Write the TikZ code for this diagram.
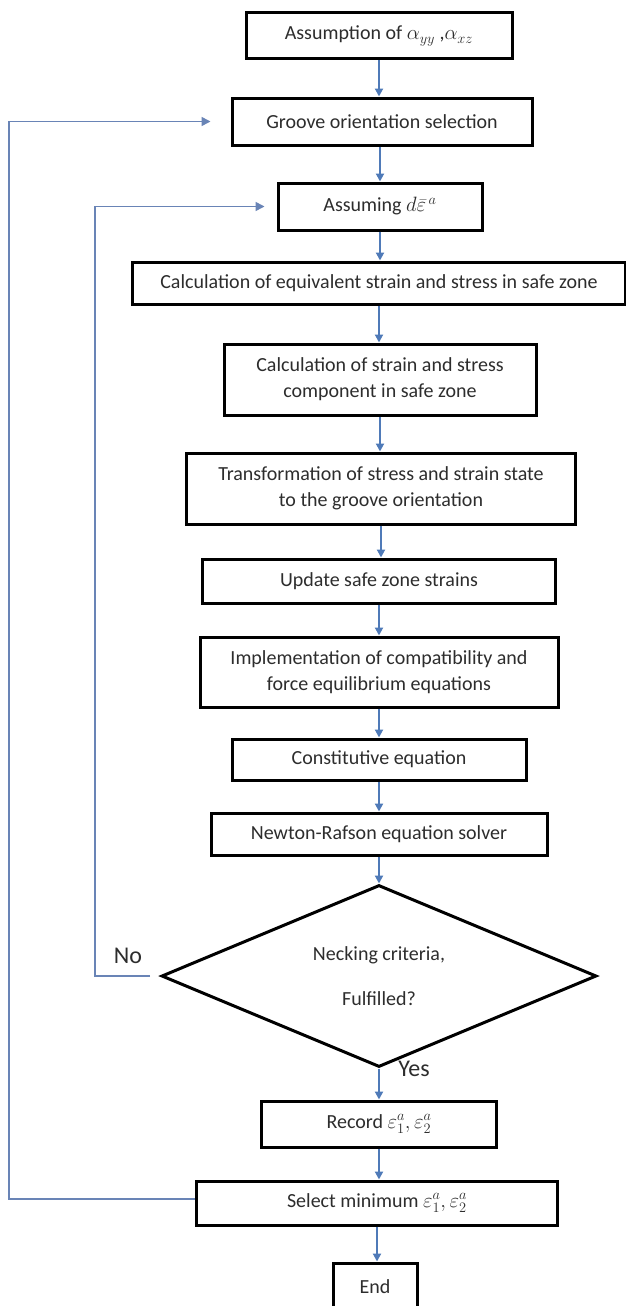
\documentclass[tikz,border=0pt]{standalone}
\usepackage{fontspec}
\setmainfont{Carlito}
\usepackage{amsmath}
\usetikzlibrary{arrows.meta,shapes.geometric}
\definecolor{txt}{RGB}{45,45,45}
\definecolor{arr}{RGB}{79,122,184}
\definecolor{loop}{RGB}{105,132,182}
\tikzset{
  box/.style={draw=black, line width=3pt, fill=white, inner sep=0pt, align=center, text=txt,
              font=\fontsize{20}{26}\selectfont},
  flow/.style={draw=arr, line width=2pt, -{Triangle[width=8pt,length=8pt]}},
  back/.style={draw=loop, line width=1.6pt, -{Triangle[width=9pt,length=9pt]}},
  lbl/.style={text=txt, font=\fontsize{24}{26}\selectfont, inner sep=0pt}
}
\begin{document}
\begin{tikzpicture}[x=1pt,y=-1pt]
\useasboundingbox (0,0) rectangle (626,1306);
\clip (0,0) rectangle (626,1306);
\fill[white] (0,0) rectangle (626,1306);
\node[box, minimum width=266, minimum height=46] (b1) at (379,36) {Assumption of $\alpha_{yy}$ ,$\alpha_{xz}$};
\node[box, minimum width=300, minimum height=47] (b2) at (382,121.5) {Groove orientation selection};
\node[box, minimum width=204, minimum height=47] (b3) at (380,206.5) {Assuming $d\bar{\varepsilon}^{\,a}$};
\node[box, minimum width=493, minimum height=42] (b4) at (379,283) {Calculation of equivalent strain and stress in safe zone};
\node[box, minimum width=312, minimum height=71] (b5) at (380,379.5) {Calculation of strain and stress\\component in safe zone};
\node[box, minimum width=389, minimum height=71] (b6) at (381,488.5) {Transformation of stress and strain state\\to the groove orientation};
\node[box, minimum width=353, minimum height=44] (b7) at (379,581) {Update safe zone strains};
\node[box, minimum width=358, minimum height=70] (b8) at (379,672) {Implementation of compatibility and\\force equilibrium equations};
\node[box, minimum width=294, minimum height=41] (b9) at (379,759.5) {Constitutive equation};
\node[box, minimum width=336, minimum height=42] (b10) at (379,834) {Newton-Rafson equation solver};
\node[box, diamond, minimum width=435, minimum height=182] (dia) at (379,976) {};
\node[text=txt, font=\fontsize{20}{22}\selectfont] (t1) at (379,955) {Necking criteria,};
\node[text=txt, font=\fontsize{20}{22}\selectfont] (t2) at (379,999) {Fulfilled?};
\node[box, minimum width=235, minimum height=46] (b11) at (379,1124) {Record $\varepsilon^{a}_{1},\varepsilon^{a}_{2}$};
\node[box, minimum width=361, minimum height=44] (b12) at (377,1203) {Select minimum $\varepsilon^{a}_{1},\varepsilon^{a}_{2}$};
\node[box, minimum width=84, minimum height=48] (end) at (375,1287) {End};
\node[lbl] (no) at (128,956) {No};
\node[lbl] (yes) at (414,1069) {Yes};
% main flow
\draw[flow] (b1.south) -- (b1.south |- b2.north);
\draw[flow] (b2.south -| b3.north) -- (b3.north);
\draw[flow] (b3.south) -- (b3.south |- b4.north);
\draw[flow] (b4.south) -- (b4.south |- b5.north);
\draw[flow] (b5.south) -- (b5.south |- b6.north);
\draw[flow] (b6.south) -- (b6.south |- b7.north);
\draw[flow] (b7.south) -- (b7.south |- b8.north);
\draw[flow] (b8.south) -- (b8.south |- b9.north);
\draw[flow] (b9.south) -- (b9.south |- b10.north);
\draw[flow] (b10.south) -- (b10.south |- dia.north);
\draw[flow] (dia.south) -- (dia.south |- b11.north);
\draw[flow] (b11.south) -- (b11.south |- b12.north);
\draw[flow] (b12.south) -- (b12.south |- end.north);
% loops
\coordinate (nostart) at ([xshift=-10pt]dia.west);
\coordinate (inx) at (95,0);
\coordinate (outx) at (9,0);
\draw[back] (nostart) -- (nostart -| inx) -- (inx |- b3.west) -- ([xshift=-12pt]b3.west);
\draw[back] ([yshift=4pt]b12.west) -- ([yshift=4pt]b12.west -| outx) -- (outx |- b2.west) -- ([xshift=-20pt]b2.west);
\end{tikzpicture}
\end{document}
